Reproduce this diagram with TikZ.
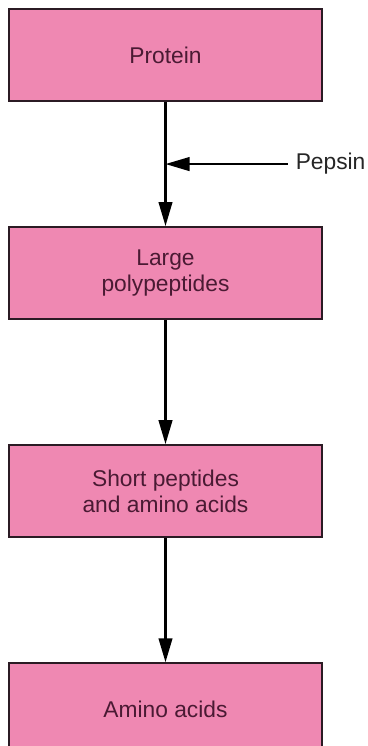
\documentclass[tikz,border=0pt]{standalone}
\usepackage{fontspec}
\setmainfont{Liberation Sans}
\usetikzlibrary{arrows.meta, positioning}
\definecolor{boxpink}{HTML}{EF88B2}
\definecolor{edgec}{HTML}{2B1B24}
\definecolor{textc}{HTML}{4A1A33}
\tikzset{
  stage/.style={rectangle, draw=edgec, fill=boxpink, line width=1.5pt,
                minimum width=7.825cm, minimum height=2.3cm, inner sep=0pt,
                text=textc, align=center, font=\fontsize{16.2}{19}\selectfont},
  flow/.style={-{Triangle[length=6mm, width=3.4mm]}, line width=1.6pt, black}
}

\begin{document}
\begin{tikzpicture}[node distance=3.1cm]
  \useasboundingbox (0,0) rectangle (9.175,-18.65);
  \node[stage] (protein) at (4.1375,-1.375) {Protein};
  \node[stage, below=of protein] (large) {Large\\polypeptides};
  \node[stage, below=of large] (short) {Short peptides\\and amino acids};
  \node[stage, below=of short] (amino) {Amino acids};
  \draw[flow] (protein) -- coordinate (mid) (large);
  \draw[flow] (large) -- (short);
  \draw[flow] (short) -- (amino);
  % enzyme acting on the first step
  \node[right=3.05cm of mid, inner xsep=0.2cm, text=black!85,
        font=\fontsize{16.2}{19}\selectfont] (pepsin) {Pepsin};
  \draw[flow] (pepsin) -- (mid);
\end{tikzpicture}
\end{document}
